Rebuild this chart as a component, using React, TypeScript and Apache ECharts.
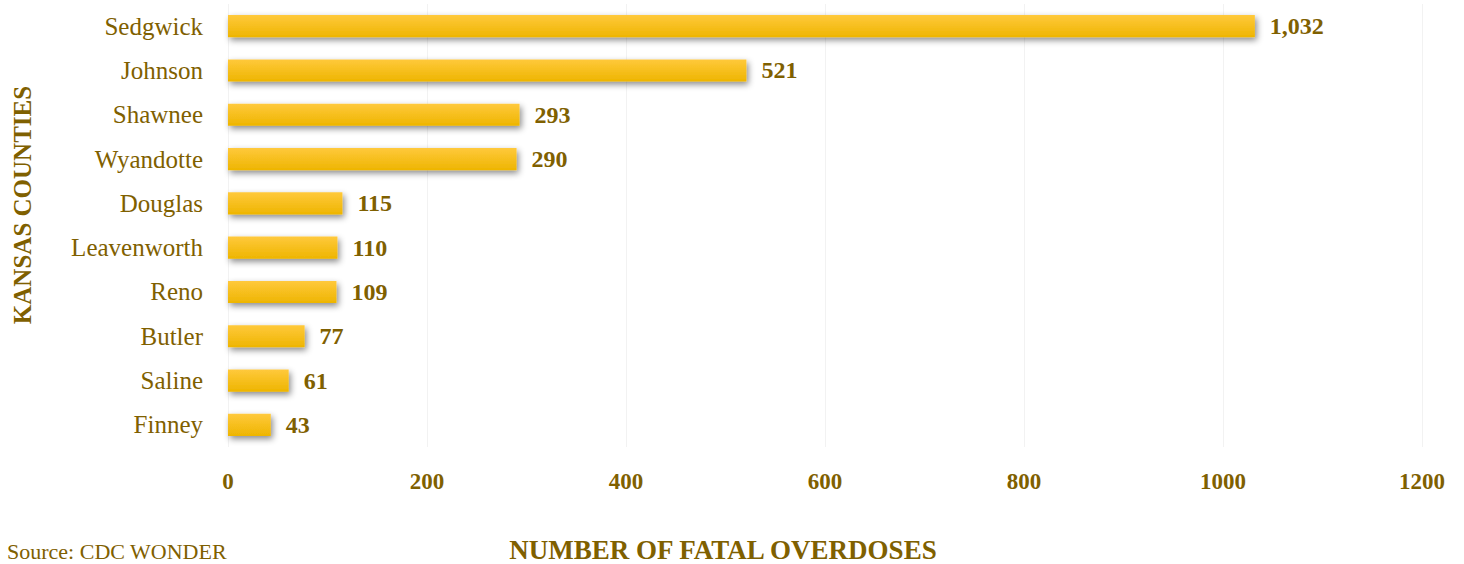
import React, { useEffect, useRef } from "react";
import * as echarts from "echarts";

const counties = ["Sedgwick", "Johnson", "Shawnee", "Wyandotte", "Douglas", "Leavenworth", "Reno", "Butler", "Saline", "Finney"];
const overdoses = [1032, 521, 293, 290, 115, 110, 109, 77, 61, 43];
const xTicks = [0, 200, 400, 600, 800, 1000, 1200];

const GOLD = "#7F6000";
const FONT = "'Liberation Serif', 'DejaVu Serif', serif";

export default function App() {
  const ref = useRef<HTMLDivElement>(null);
  useEffect(() => {
    const chart = echarts.init(ref.current!, null, { renderer: "svg" });
    chart.setOption({
      animation: false,
      grid: { left: 228, right: 42, top: 4, bottom: 117, containLabel: false },
      xAxis: {
        type: "value",
        min: xTicks[0],
        max: xTicks[xTicks.length - 1],
        interval: 200,
        axisLine: { show: false },
        axisTick: { show: false },
        splitLine: { show: true, lineStyle: { color: "#F2F2F2", width: 1 } },
        axisLabel: {
          color: GOLD,
          fontFamily: FONT,
          fontWeight: "bold",
          fontSize: 23,
          margin: 23,
          formatter: (v: number) => String(v),
        },
      },
      yAxis: {
        type: "category",
        data: counties,
        inverse: true,
        axisLine: { show: false },
        axisTick: { show: false },
        axisLabel: { color: GOLD, fontFamily: FONT, fontSize: 25, margin: 25 },
      },
      graphic: [
        {
          type: "text",
          left: 7,
          top: 540,
          style: { text: "Source: CDC WONDER", fill: GOLD, font: `22px ${FONT}` },
        },
        {
          type: "text",
          x: 723,
          y: 550,
          style: {
            text: "NUMBER OF FATAL OVERDOSES",
            fill: GOLD,
            font: `bold 27px ${FONT}`,
            textAlign: "center",
            textVerticalAlign: "middle",
          },
        },
        {
          type: "text",
          x: 22,
          y: 205,
          rotation: Math.PI / 2,
          style: {
            text: "KANSAS COUNTIES",
            fill: GOLD,
            font: `bold 25px ${FONT}`,
            textAlign: "center",
            textVerticalAlign: "middle",
          },
        },
      ],
      series: [
        {
          type: "bar",
          data: overdoses,
          barWidth: "50%",
          itemStyle: {
            color: new echarts.graphic.LinearGradient(0, 0, 0, 1, [
              { offset: 0, color: "#FFC93C" },
              { offset: 1, color: "#EEB500" },
            ]),
            shadowColor: "rgba(0,0,0,0.45)",
            shadowBlur: 6,
            shadowOffsetX: 2,
            shadowOffsetY: 3,
          },
          label: {
            show: true,
            position: "right",
            distance: 15,
            color: GOLD,
            fontFamily: FONT,
            fontWeight: "bold",
            fontSize: 24,
            formatter: (p: any) => Number(p.value).toLocaleString("en-US"),
          },
        },
      ],
    });
    return () => chart.dispose();
  }, []);
  return <div ref={ref} style={{ width: 1464, height: 564, position: "absolute", left: 0, top: 0 }} />;
}
